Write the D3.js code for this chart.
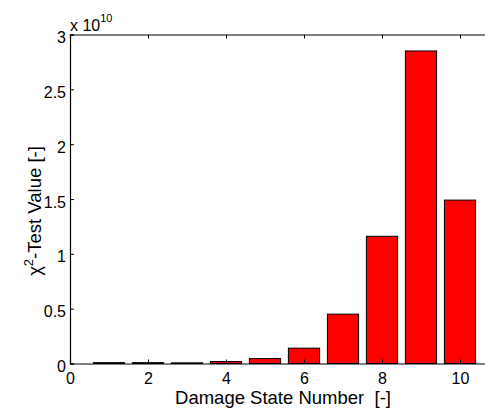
<!DOCTYPE html>
<html>
<head>
<meta charset="utf-8">
<script src="https://cdn.jsdelivr.net/npm/d3@7"></script>
<style>
  body { margin: 0; background: #fff; }
  svg { display: block; font-family: "Liberation Sans", Arial, sans-serif; }
</style>
</head>
<body>
<svg width="485" height="409"></svg>
<script>
// damage state vs chi^2 test value (values in units of 1e10)
let damageStates = [1, 2, 3, 4, 5, 6, 7, 8, 9, 10];
let chiValues = [0.008, 0.008, 0.006, 0.018, 0.045, 0.14, 0.45, 1.16, 2.85, 1.49];
let xTicks = [0, 2, 4, 6, 8, 10];
let yTicks = [0, 0.5, 1, 1.5, 2, 2.5, 3];
let yTickLabels = ["0", "0.5", "1", "1.5", "2", "2.5", "3"];

var drawChart = function() {
  let svg = d3.select("svg");

  let margin = { left: 70, top: 34.5, bottom: 363.5 };
  let unit = 39;

  let x = d3.scaleLinear().domain([0, 11]).range([margin.left, margin.left + 11 * unit]);
  let y = d3.scaleLinear().domain([0, 3]).range([margin.bottom, margin.top]);

  let plot = svg.append("g").attr("id", "plot");

  // bars
  plot.selectAll("rect.bar")
    .data(damageStates)
    .enter().append("rect")
    .attr("class", "bar")
    .attr("x", function(d) { return x(d - 0.4); })
    .attr("width", function(d) { return x(0.8) - x(0); })
    .attr("y", function(d, i) { return y(chiValues[i]); })
    .attr("height", function(d, i) { return y(0) - y(chiValues[i]); })
    .attr("fill", "#ff0000")
    .attr("stroke", "#000")
    .attr("stroke-width", 1);

  // axes (ticks inside, matlab style)
  let tickLen = 4;
  let xBottom = d3.axisBottom(x).tickValues(xTicks).tickSize(-tickLen).tickPadding(tickLen + 5);
  let xTop = d3.axisTop(x).tickValues(xTicks).tickSize(-tickLen).tickFormat("");
  let yLeft = d3.axisLeft(y).tickValues(yTicks).tickSize(-tickLen).tickPadding(tickLen)
    .tickFormat(function(d, i) { return yTickLabels[i]; });

  let xg = svg.append("g").attr("transform", "translate(0," + margin.bottom + ")").call(xBottom);
  let xt = svg.append("g").attr("transform", "translate(0," + margin.top + ")").call(xTop);
  let yg = svg.append("g").attr("transform", "translate(" + margin.left + ",0)").call(yLeft);

  [xg, xt, yg].forEach(function(g) {
    g.select(".domain").attr("stroke", "#000").attr("stroke-width", 1.2);
    g.selectAll(".tick line").attr("stroke", "#000");
    g.selectAll("text").attr("fill", "#000").style("font-size", "16px")
      .style("font-family", "Liberation Sans, Arial, sans-serif");
  });
  yg.selectAll("text").attr("dy", "0.5em");

  // exponent label
  let expo = svg.append("text")
    .attr("x", margin.left)
    .attr("y", 31)
    .style("font-size", "16px")
    .attr("fill", "#000");
  expo.append("tspan").text("x 10");
  expo.append("tspan").attr("dy", -9).style("font-size", "11px").text("10");

  // x label
  svg.append("text")
    .attr("x", 283)
    .attr("y", 404)
    .style("text-anchor", "middle")
    .style("font-size", "18.5px")
    .style("white-space", "pre")
    .attr("fill", "#000")
    .text("Damage State Number  [-]");

  // y label
  let ylab = svg.append("text")
    .attr("transform", "translate(41," + ((margin.top + margin.bottom) / 2 + 12) + ") rotate(-90)")
    .style("text-anchor", "middle")
    .style("font-size", "18.5px")
    .attr("fill", "#000");
  ylab.append("tspan").text("\u03c7");
  ylab.append("tspan").attr("dy", -8).style("font-size", "13px").text("2");
  ylab.append("tspan").attr("dy", 8).text("-Test Value [-]");
}

drawChart();
</script>
</body>
</html>
